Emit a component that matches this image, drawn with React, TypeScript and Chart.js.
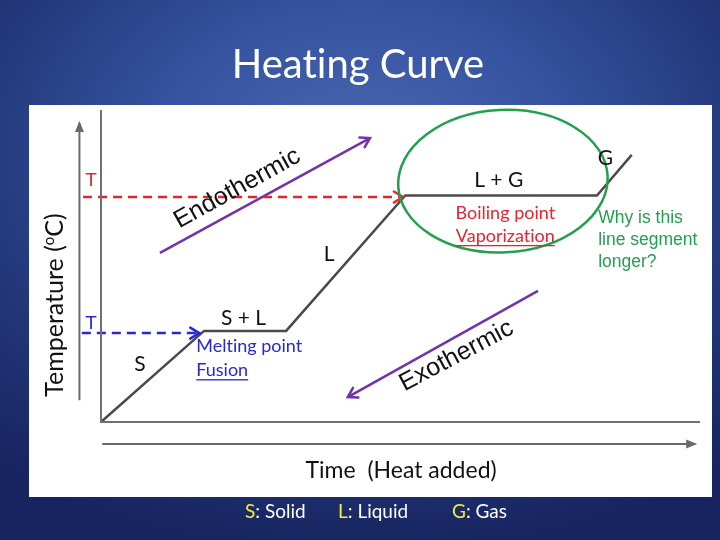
import React, { useEffect, useRef } from "react";
import { Chart, registerables } from "chart.js";

Chart.register(...registerables);

// ---- Data (arbitrary units: time 0–100, temperature 0–100) ----
const curveTime = [0, 17.2, 30.9, 50.8, 82.8, 88.6];
const curveTemp = [0, 29.2, 29.2, 72.6, 72.6, 85.6];

const boilingLineTime = [-3.0, 50.4];
const boilingLineTemp = [72.1, 72.1];
const meltingLineTime = [-3.2, 16.4];
const meltingLineTemp = [28.5, 28.5];

const endoArrowTime = [9.85, 44.9];
const endoArrowTemp = [54.2, 91.0];
const exoArrowTime = [72.95, 41.2];
const exoArrowTemp = [42.0, 8.0];

const axisLineTime = [0, 0, 100];
const axisLineTemp = [100, 0, 0];
const timeArrowTime = [0.2, 99.2];
const timeArrowTemp = [-7.05, -7.05];
const tempArrowTime = [-3.6, -3.6];
const tempArrowTemp = [7.0, 95.8];

const ellipseCenter = [67.1, 77.2];
const ellipseRadii = [17.5, 22.8];

const phaseLabels = ["S", "S + L", "L", "L + G", "G"];
const phaseLabelTime = [6.5, 23.8, 38.1, 66.4, 84.2];
const phaseLabelTemp = [16.3, 31.1, 51.6, 75.3, 82.4];

const questionLines = ["Why is this", "line segment", "longer?"];
const questionTime = [83.0, 83.0, 83.0];
const questionTemp = [63.8, 56.7, 49.7];

const legendKeys = ["S", "L", "G"];
const legendNames = [": Solid", ": Liquid", ": Gas"];

const CAL = 'Lato, "Open Sans", sans-serif';
const ARIAL = '"Liberation Sans", Arial, sans-serif';
const RED = "#e3262d";
const BLUE = "#2828d0";
const GREEN = "#22a04e";
const PURPLE = "#7232a8";

const pts = (xs: number[], ys: number[]) => xs.map((x, i) => ({ x, y: ys[i] }));

type Label = {
  text: string;
  x: number;
  y: number;
  font: string;
  color: string;
  align?: CanvasTextAlign;
  rotate?: number;
  underline?: boolean;
};

const textLabels: Label[] = [
  ...phaseLabels.map((t, i) => ({
    text: t,
    x: phaseLabelTime[i],
    y: phaseLabelTemp[i],
    font: `21px ${CAL}`,
    color: "#111111",
  })),
  { text: "T", x: -1.67, y: 75.6, font: `19px ${ARIAL}`, color: RED },
  { text: "T", x: -1.67, y: 29.8, font: `19px ${ARIAL}`, color: BLUE },
  { text: "Boiling point", x: 67.5, y: 65.1, font: `18px ${CAL}`, color: RED },
  { text: "Vaporization", x: 67.5, y: 57.7, font: `18px ${CAL}`, color: RED, underline: true },
  { text: "Melting point", x: 15.9, y: 22.4, font: `18px ${CAL}`, color: BLUE, align: "left" },
  { text: "Fusion", x: 15.9, y: 14.7, font: `18px ${CAL}`, color: BLUE, align: "left", underline: true },
  ...questionLines.map((t, i) => ({
    text: t,
    x: questionTime[i],
    y: questionTemp[i],
    font: `17.5px ${ARIAL}`,
    color: GREEN,
    align: "left" as CanvasTextAlign,
  })),
  { text: "Endothermic", x: 23.3, y: 72.9, font: `25px ${ARIAL}`, color: "#111111", rotate: -29 },
  { text: "Exothermic", x: 59.9, y: 19.2, font: `25px ${ARIAL}`, color: "#111111", rotate: -28 },
  { text: "Time  (Heat added)", x: 50.1, y: -17.9, font: `23px ${CAL}`, color: "#111111" },
];

const annotationPlugin = {
  id: "heatingAnnotations",
  afterDatasetsDraw(chart: any) {
    const ctx: any = chart.ctx;
    const xs = chart.scales.x;
    const ys = chart.scales.y;

    // arrow heads
    chart.data.datasets.forEach((ds: any, i: number) => {
      if (!ds.arrowHead) return;
      const meta = chart.getDatasetMeta(i);
      const n = meta.data.length;
      const a = meta.data[n - 2];
      const b = meta.data[n - 1];
      const ang = Math.atan2(b.y - a.y, b.x - a.x);
      ctx.save();
      ctx.translate(b.x, b.y);
      ctx.rotate(ang);
      ctx.strokeStyle = ds.borderColor;
      ctx.fillStyle = ds.borderColor;
      ctx.lineWidth = ds.borderWidth;
      ctx.setLineDash([]);
      if (ds.arrowHead === "filled") {
        ctx.beginPath();
        ctx.moveTo(2, 0);
        ctx.lineTo(-9, -4.5);
        ctx.lineTo(-9, 4.5);
        ctx.closePath();
        ctx.fill();
      } else {
        ctx.lineCap = "round";
        ctx.beginPath();
        ctx.moveTo(-9, -5.5);
        ctx.lineTo(0, 0);
        ctx.lineTo(-9, 5.5);
        ctx.stroke();
      }
      ctx.restore();
    });

    // ellipse around boiling plateau
    const cx = xs.getPixelForValue(ellipseCenter[0]);
    const cy = ys.getPixelForValue(ellipseCenter[1]);
    const rx = Math.abs(xs.getPixelForValue(ellipseCenter[0] + ellipseRadii[0]) - cx);
    const ry = Math.abs(ys.getPixelForValue(ellipseCenter[1] + ellipseRadii[1]) - cy);
    ctx.save();
    ctx.strokeStyle = GREEN;
    ctx.lineWidth = 2.5;
    ctx.beginPath();
    ctx.ellipse(cx, cy, rx, ry, -0.05, 0, Math.PI * 2);
    ctx.stroke();
    ctx.restore();

    // text labels
    textLabels.forEach((t) => {
      const px = xs.getPixelForValue(t.x);
      const py = ys.getPixelForValue(t.y);
      ctx.save();
      ctx.translate(px, py);
      if (t.rotate) ctx.rotate((t.rotate * Math.PI) / 180);
      ctx.font = t.font;
      if ("textRendering" in ctx) ctx.textRendering = "optimizeSpeed";
      ctx.fillStyle = t.color;
      ctx.textAlign = t.align || "center";
      ctx.textBaseline = "alphabetic";
      ctx.fillText(t.text, 0, 0);
      if (t.underline) {
        const w = ctx.measureText(t.text).width;
        const x0 = t.align === "left" ? 0 : -w / 2;
        ctx.fillRect(x0, 3, w, 1.3);
      }
      ctx.restore();
    });

    // rotated y-axis title with superscript
    const tx = xs.getPixelForValue(-6.3);
    const ty = ys.getPixelForValue(37.5);
    ctx.save();
    ctx.translate(tx, ty);
    ctx.rotate(-Math.PI / 2);
    ctx.fillStyle = "#111111";
    ctx.textAlign = "left";
    ctx.textBaseline = "alphabetic";
    const big = `25px ${CAL}`;
    const small = `15px ${CAL}`;
    const p1 = "Temperature (";
    const p2 = "o";
    const p3 = "C)";
    ctx.font = big;
    const w1 = ctx.measureText(p1).width;
    const w3 = ctx.measureText(p3).width;
    ctx.font = small;
    const w2 = ctx.measureText(p2).width;
    let x = -(w1 + w2 + w3) / 2;
    ctx.font = big;
    ctx.fillText(p1, x, 0);
    x += w1;
    ctx.font = small;
    ctx.fillText(p2, x, -9);
    x += w2;
    ctx.font = big;
    ctx.fillText(p3, x, 0);
    ctx.restore();
  },
};

function HeatingChart() {
  const ref = useRef<HTMLCanvasElement | null>(null);
  useEffect(() => {
    if (!ref.current) return;
    const line = (data: any[], color: string, width: number, extra: any = {}) => ({
      data,
      showLine: true,
      borderColor: color,
      backgroundColor: color,
      borderWidth: width,
      pointRadius: 0,
      tension: 0,
      fill: false,
      clip: false,
      ...extra,
    });
    const chart = new Chart(ref.current, {
      type: "scatter",
      data: {
        datasets: [
          line(pts(axisLineTime, axisLineTemp), "#707070", 2),
          line(pts(timeArrowTime, timeArrowTemp), "#6a6a6a", 2, { arrowHead: "filled" }),
          line(pts(tempArrowTime, tempArrowTemp), "#6a6a6a", 2, { arrowHead: "filled" }),
          line(pts(boilingLineTime, boilingLineTemp), RED, 2.5, { borderDash: [9, 6], arrowHead: "open" }),
          line(pts(meltingLineTime, meltingLineTemp), BLUE, 2.5, { borderDash: [9, 6], arrowHead: "open" }),
          line(pts(curveTime, curveTemp), "#4a4a4a", 2.5),
          line(pts(endoArrowTime, endoArrowTemp), PURPLE, 2.5, { arrowHead: "open" }),
          line(pts(exoArrowTime, exoArrowTemp), PURPLE, 2.5, { arrowHead: "open" }),
        ] as any,
      },
      options: {
        animation: false,
        responsive: true,
        maintainAspectRatio: false,
        layout: { padding: { left: 72, right: 12, top: 5, bottom: 75 } },
        plugins: { legend: { display: false }, tooltip: { enabled: false } },
        events: [],
        scales: {
          x: { type: "linear", min: 0, max: 100, display: false },
          y: { type: "linear", min: 0, max: 100, display: false },
        },
      },
      plugins: [annotationPlugin],
    });
    return () => chart.destroy();
  }, []);
  return <canvas ref={ref} />;
}

export default function App() {
  return (
    <div
      style={{
        position: "fixed",
        left: 0,
        top: 0,
        width: 720,
        height: 540,
        overflow: "hidden",
        background:
          "radial-gradient(ellipse 80% 75% at 50% 28%, #4a67b0 0%, #3553a0 35%, #223678 70%, #17245f 100%)",
        fontFamily: CAL,
        fontVariantLigatures: "none",
      }}
    >
      <div
        style={{
          position: "absolute",
          left: 0,
          width: 716,
          top: 43,
          textAlign: "center",
          color: "#ffffff",
          fontSize: 40,
          lineHeight: 1,
          whiteSpace: "nowrap",
        }}
      >
        Heating Curve
      </div>
      <div
        style={{
          position: "absolute",
          left: 29,
          top: 105,
          width: 683,
          height: 392,
          background: "#ffffff",
        }}
      >
        <HeatingChart />
      </div>
      {legendKeys.map((k, i) => (
        <div
          key={k}
          style={{
            position: "absolute",
            left: [245, 338, 452][i],
            top: 501,
            fontSize: 19,
            lineHeight: 1,
            color: "#ffffff",
            whiteSpace: "nowrap",
          }}
        >
          <span style={{ color: "#f0ee3a" }}>{k}</span>
          {legendNames[i]}
        </div>
      ))}
    </div>
  );
}
